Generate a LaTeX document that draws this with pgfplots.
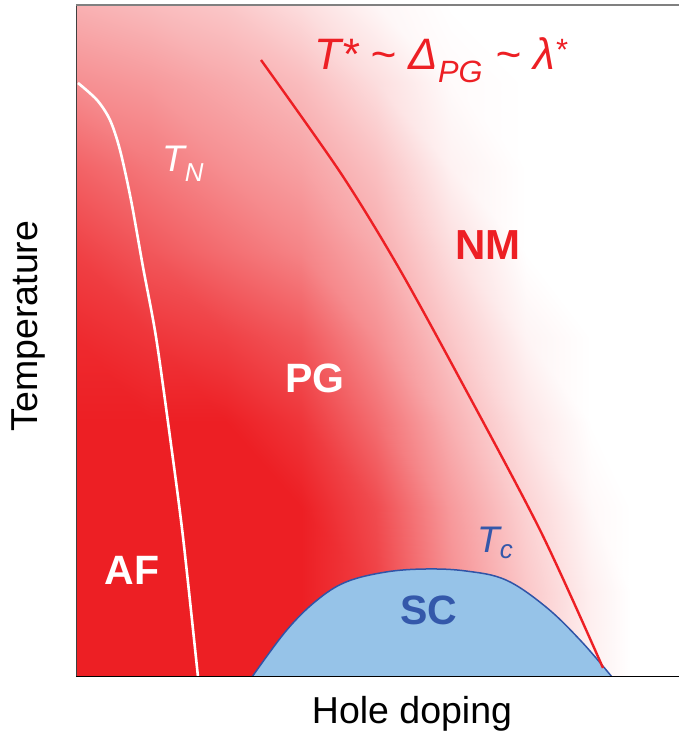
\documentclass[border=0pt]{standalone}
\usepackage{fontspec}
\setmainfont{Liberation Sans}
\usepackage{pgfplots}
\pgfplotsset{compat=1.18}

\definecolor{pgred}{RGB}{237,31,36}
\definecolor{scfill}{RGB}{150,195,232}
\definecolor{scline}{RGB}{48,84,167}
\definecolor{sctext}{RGB}{52,88,170}

\begin{document}
\begin{tikzpicture}
\useasboundingbox (0,0) rectangle (679pt,737pt);
\begin{axis}[
  at={(76pt,60pt)}, anchor=south west,
  scale only axis, width=603pt, height=672pt,
  xmin=0, xmax=603, ymin=0, ymax=672,
  hide axis,
  colormap={whitered}{rgb255=(255,255,255) rgb255=(237,31,36)},
  point meta min=0, point meta max=1,
]
% intensity of the pseudogap shading
\addplot[surf, shader=interp, mesh/cols=10, point meta=explicit] table[meta=c] {
x y c
0 0 1
75 0 1
150 0 1
225 0 1
300 0 0.85
375 0 0.5
450 0 0.25
515 0 0.07
555 0 0
603 0 0
0 85 1
75 85 1
150 85 1
225 85 1
300 85 0.85
375 85 0.5
450 85 0.25
515 85 0.07
555 85 0
603 85 0
0 170 1
75 170 1
150 170 1
225 170 1
300 170 0.8
375 170 0.45
450 170 0.2
515 170 0.03
555 170 0
603 170 0
0 255 1
75 255 1
150 255 1
225 255 0.9
300 255 0.65
375 255 0.35
450 255 0.12
515 255 0
555 255 0
603 255 0
0 340 0.95
75 340 0.9
150 340 0.85
225 340 0.75
300 340 0.5
375 340 0.25
450 340 0.05
515 340 0
555 340 0
603 340 0
0 425 0.85
75 425 0.75
150 425 0.65
225 425 0.55
300 425 0.38
375 425 0.15
450 425 0
515 425 0
555 425 0
603 425 0
0 510 0.7
75 510 0.6
150 510 0.5
225 510 0.42
300 510 0.28
375 510 0.06
450 510 0
515 510 0
555 510 0
603 510 0
0 595 0.5
75 595 0.45
150 595 0.38
225 595 0.3
300 595 0.15
375 595 0.02
450 595 0
515 595 0
555 595 0
603 595 0
0 672 0.35
75 672 0.3
150 672 0.25
225 672 0.15
300 672 0.04
375 672 0
450 672 0
515 672 0
555 672 0
603 672 0
};
% superconducting dome
\addplot[fill=scfill, draw=scline, line width=1.5pt, smooth, tension=0.6] coordinates {
(176,0) (210,46) (240,76) (270,95) (310,105) (350,108) (390,106)
(430,97) (470,70) (505,36) (536,0)
};
% Neel temperature
\addplot[white, line width=2.6pt, smooth, tension=0.5] coordinates {
(2,594) (21,577) (34,557) (44,527) (55,477) (67,410) (80,340)
(94,240) (107,140) (122,0)
};
% pseudogap crossover T*
\addplot[pgred, line width=2.4pt, smooth, tension=0.5] coordinates {
(185,617) (264,505) (320,414) (378,309) (464,147) (527,9)
};
% frame
\draw[black!75, line width=1.5pt] (axis cs:0,0) -- (axis cs:0,672);
\draw[black!50, line width=2pt] (axis cs:0,672) -- (axis cs:603,672);
\draw[black, line width=1.5pt] (axis cs:0,0) -- (axis cs:603,0);
% region labels
\node[white, font=\fontsize{41}{44}\selectfont\bfseries] at (axis cs:56,107) {AF};
\node[white, font=\fontsize{41}{44}\selectfont\bfseries] at (axis cs:239,299) {PG};
\node[pgred, font=\fontsize{42}{44}\selectfont\bfseries] at (axis cs:412,432) {NM};
\node[sctext, font=\fontsize{41}{44}\selectfont\bfseries] at (axis cs:353,67) {SC};
\node[white, anchor=base west, inner sep=0pt, font=\fontsize{37}{40}\selectfont\itshape] at (axis cs:86,505) {T\textsubscript{N}};
\node[sctext, anchor=base west, inner sep=0pt, font=\fontsize{37}{40}\selectfont\itshape] at (axis cs:401,124) {T\textsubscript{c}};
\node[pgred, anchor=base, inner sep=0pt, font=\fontsize{44}{48}\selectfont\itshape] at (axis cs:365,607)
  {T* \char`\~{} Δ\textsubscript{PG} \char`\~{} λ\textsuperscript{*}};
\end{axis}
% axis titles
\node[anchor=base, inner sep=0pt, font=\fontsize{37.5}{40}\selectfont] at (412pt,13pt) {Hole doping};
\node[rotate=90, inner sep=0pt, font=\fontsize{37.5}{40}\selectfont] at (28pt,411pt) {Temperature};
\end{tikzpicture}
\end{document}
